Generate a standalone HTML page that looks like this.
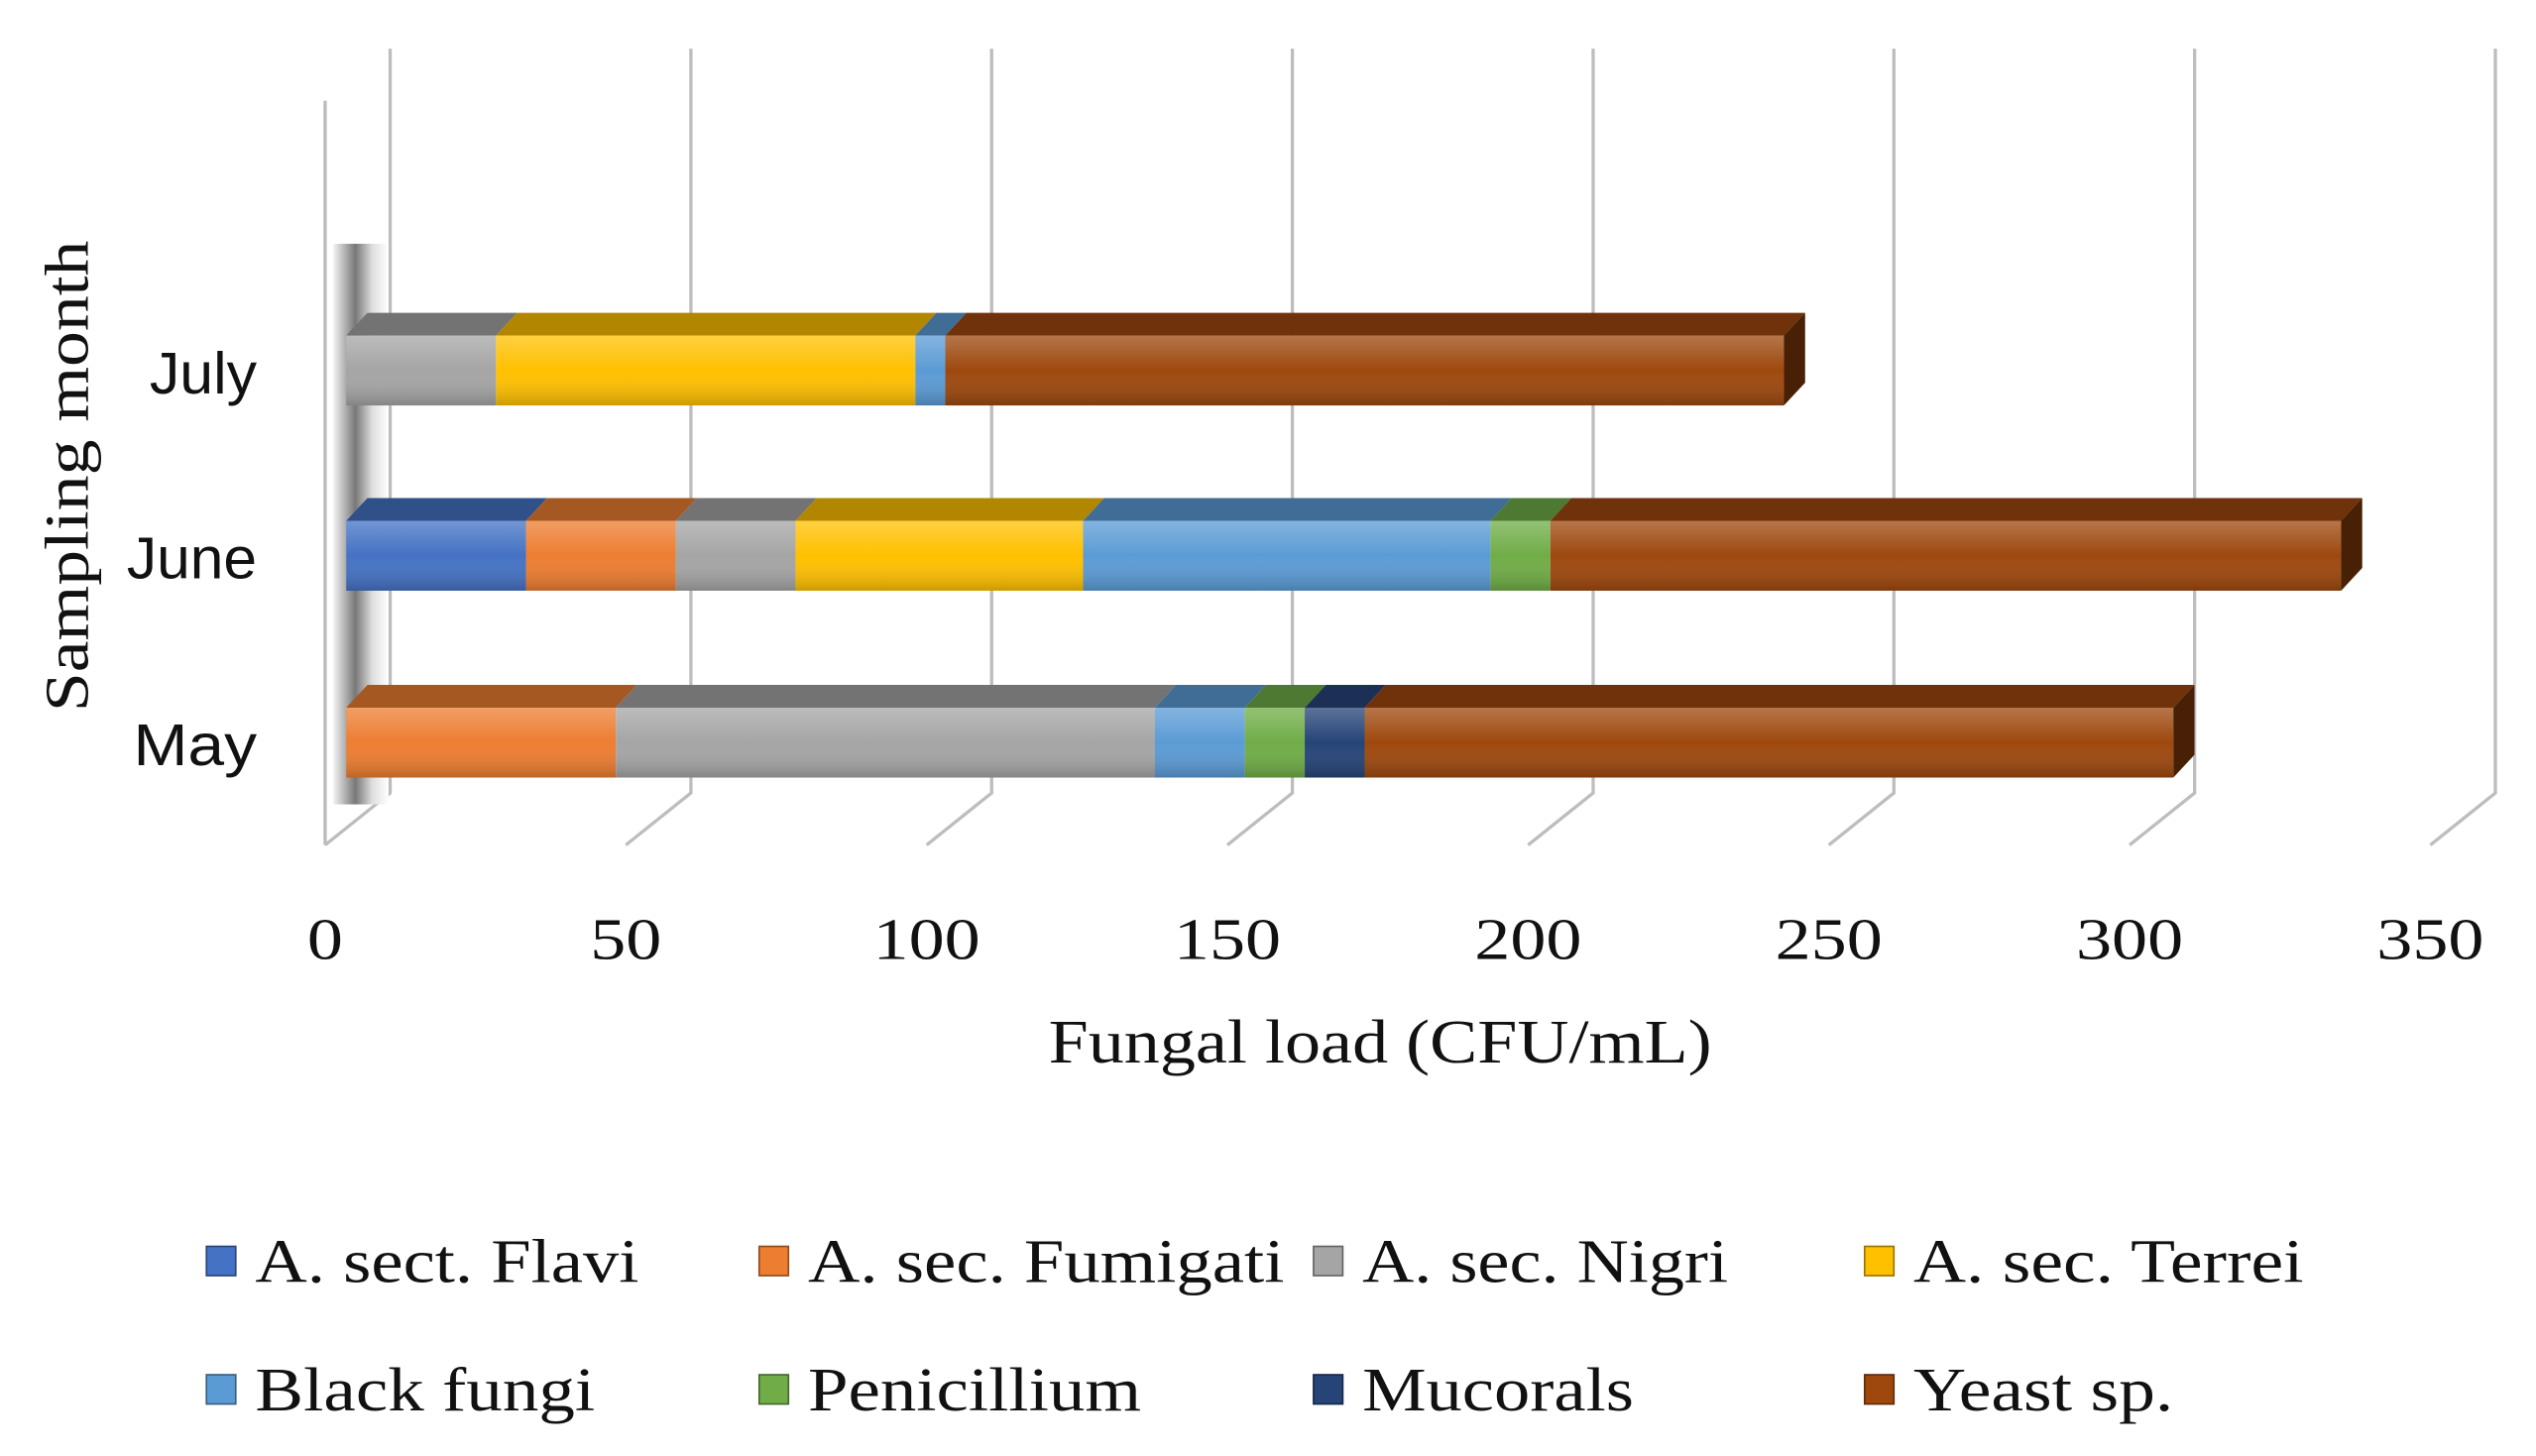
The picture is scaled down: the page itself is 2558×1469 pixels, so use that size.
<!DOCTYPE html>
<html><head><meta charset="utf-8"><style>
html,body{margin:0;padding:0;background:#fff;}
svg{display:block;}
</style></head><body>
<svg id="chart" width="2558" height="1469" viewBox="0 0 1560 896" preserveAspectRatio="none" xmlns="http://www.w3.org/2000/svg">
<defs>
<linearGradient id="wallg" x1="0" x2="1" y1="0" y2="0">
<stop offset="0" stop-color="#f4f4f4"/><stop offset="0.4" stop-color="#777"/><stop offset="0.7" stop-color="#ddd"/><stop offset="1" stop-color="#fff"/>
</linearGradient>
<linearGradient id="shine" x1="0" x2="0" y1="0" y2="1">
<stop offset="0" stop-color="#fff" stop-opacity="0.25"/><stop offset="0.5" stop-color="#fff" stop-opacity="0"/><stop offset="1" stop-color="#000" stop-opacity="0.2"/>
</linearGradient>
</defs>
<g id="grid"></g>
<rect x="205" y="150" width="34" height="345" fill="url(#wallg)"/>
<line x1="200" y1="62" x2="200" y2="520" stroke="#bbb" stroke-width="2"/>
<g id="bars"></g>
<g id="xticks" font-family="'Liberation Serif',serif" font-size="36" fill="#111" text-anchor="middle"></g>
<g id="cats" font-family="'Liberation Sans',sans-serif" font-size="36" fill="#111" text-anchor="end"></g>
<text x="645" y="654" textLength="408" lengthAdjust="spacingAndGlyphs" font-family="'Liberation Serif',serif" font-size="38" fill="#111">Fungal load (CFU/mL)</text>
<text transform="translate(54,438) rotate(-90)" textLength="290" lengthAdjust="spacingAndGlyphs" font-family="'Liberation Serif',serif" font-size="38" fill="#111">Sampling month</text>
<g id="legend" font-family="'Liberation Serif',serif" font-size="38" fill="#111"></g>
</svg>
<script>
const categories = ["May", "June", "July"];
const seriesNames = ["A. sect. Flavi", "A. sec. Fumigati", "A. sec. Nigri", "A. sec. Terrei", "Black fungi", "Penicillium", "Mucorals", "Yeast sp."];
const seriesColors = ["#4472c4", "#ed7d31", "#a5a5a5", "#ffc000", "#5b9bd5", "#70ad47", "#264478", "#9e480e"];
const flavi = [0, 30, 0];
const fumigati = [45, 25, 0];
const nigri = [90, 20, 25];
const terrei = [0, 48, 70];
const blackFungi = [15, 68, 5];
const penicillium = [10, 10, 0];
const mucorals = [10, 0, 0];
const yeast = [135, 132, 140];
const ticks = [0, 50, 100, 150, 200, 250, 300, 350];

const series = [flavi, fumigati, nigri, terrei, blackFungi, penicillium, mucorals, yeast];
const legendLens = [236, 293, 225, 240, 209, 205, 167, 160];
const catLens = [76, 80, 66];
const NS = "http://www.w3.org/2000/svg";
const PX = 3.685;
function xBar(v){ return 213 + v * PX; }
function xBack(v){ return 240 + v * 3.7; }
function yCat(i){ return [457, 342, 228][i]; }
function mk(tag, attrs, parent){ const e = document.createElementNS(NS, tag); for (const k in attrs) e.setAttribute(k, attrs[k]); parent.appendChild(e); return e; }
function shade(hex, f){ const n = parseInt(hex.slice(1),16); let r=n>>16,g=(n>>8)&255,b=n&255; r=Math.round(r*f);g=Math.round(g*f);b=Math.round(b*f); return "rgb("+r+","+g+","+b+")"; }

const grid = document.getElementById("grid");
ticks.forEach(function(t){
  const x = xBack(t);
  const p = mk("polyline", {points: x+",30 "+x+",488 "+(x-40)+",520", fill:"none", stroke:"#bdbdbd", "stroke-width":"2"}, grid);
  
  
});
const xt = document.getElementById("xticks");
ticks.forEach(function(t){
  const s = String(t);
  const tx = mk("text", {x: xBack(t) - 40, y: 590, textLength: s.length * 22, lengthAdjust: "spacingAndGlyphs"}, xt);
  tx.textContent = s;
  
  
});
const cg = document.getElementById("cats");
categories.forEach(function(c, i){
  const tx = mk("text", {x: 158, y: yCat(i) + 14, textLength: catLens[i], lengthAdjust: "spacingAndGlyphs"}, cg);
  tx.textContent = c;
  
  
});
const bars = document.getElementById("bars");
const H = 43, DX = 13, DY = 14;
categories.forEach(function(c, i){
  let cum = 0;
  const yTop = yCat(i) - H/2;
  const segs = [];
  series.forEach(function(s, k){
    const v = s[i]; if (v <= 0) return;
    segs.push({k:k, x0: xBar(cum), x1: xBar(cum + v)});
    cum += v;
  });
  segs.forEach(function(sg){
    const col = seriesColors[sg.k];
    const top = mk("polygon", {points: sg.x0+","+yTop+" "+(sg.x0+DX)+","+(yTop-DY)+" "+(sg.x1+DX)+","+(yTop-DY)+" "+sg.x1+","+yTop, fill: shade(col,0.7)}, bars);
    
    
    const r = mk("rect", {x: sg.x0, y: yTop, width: sg.x1 - sg.x0, height: H, fill: col}, bars);
    
    
    const sh = mk("rect", {x: sg.x0, y: yTop, width: sg.x1 - sg.x0, height: H, fill: "url(#shine)"}, bars);
    
    
  });
  const last = segs[segs.length-1];
  const side = mk("polygon", {points: last.x1+","+yTop+" "+(last.x1+DX)+","+(yTop-DY)+" "+(last.x1+DX)+","+(yTop+H-DY)+" "+last.x1+","+(yTop+H), fill: shade(seriesColors[last.k],0.45)}, bars);
  
  
});
const lg = document.getElementById("legend");
const lx = [127, 467, 808, 1147];
seriesNames.forEach(function(n, k){
  const x = lx[k % 4], y = k < 4 ? 776 : 855;
  const sq = mk("rect", {x: x, y: y - 9, width: 18, height: 18, fill: seriesColors[k], stroke: shade(seriesColors[k],0.6), "stroke-width":"1"}, lg);
  
  
  const t = mk("text", {x: x + 30, y: y + 13, textLength: legendLens[k], lengthAdjust: "spacingAndGlyphs"}, lg);
  t.textContent = n;
  
  
});
</script>
</body></html>
